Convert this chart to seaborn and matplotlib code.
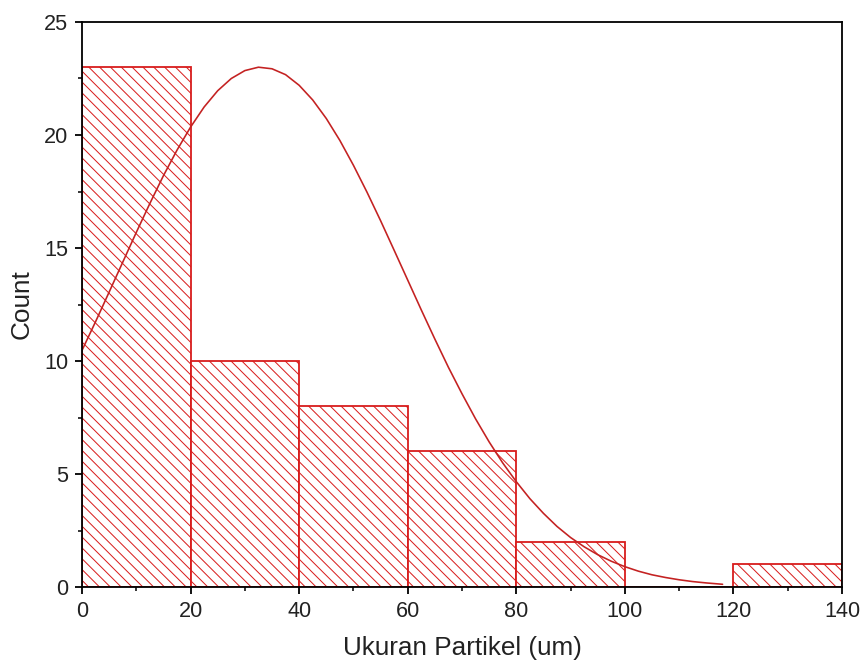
import numpy as np
import matplotlib
matplotlib.use("Agg")
import matplotlib.pyplot as plt
import seaborn as sns

# ── Data ────────────────────────────────────────────────────────────────────
bin_edges = [0, 20, 40, 60, 80, 100, 120, 140]
bin_counts = [23, 10, 8, 6, 2, 0, 1]

# fitted normal curve
curve_x = [0, 2.5, 5, 7.5, 10, 12.5, 15, 17.5, 20, 22.5, 25, 27.5, 30, 32.5,
           35, 37.5, 40, 42.5, 45, 47.5, 50, 52.5, 55, 57.5, 60, 62.5, 65,
           67.5, 70, 72.5, 75, 77.5, 80, 82.5, 85, 87.5, 90, 92.5, 95, 97.5,
           100, 102.5, 105, 107.5, 110, 112.5, 115, 118]
curve_y = [10.47, 11.74, 13.05, 14.37, 15.69, 16.97, 18.20, 19.33, 20.35,
           21.24, 21.96, 22.50, 22.85, 23.00, 22.93, 22.67, 22.20, 21.55,
           20.73, 19.76, 18.66, 17.47, 16.21, 14.90, 13.58, 12.26, 10.97,
           9.72, 8.55, 7.44, 6.42, 5.49, 4.66, 3.91, 3.26, 2.68, 2.19, 1.78,
           1.43, 1.14, 0.90, 0.70, 0.54, 0.42, 0.32, 0.24, 0.18, 0.12]

x_ticks = [0, 20, 40, 60, 80, 100, 120, 140]
y_ticks = [0, 5, 10, 15, 20, 25]

RED = "#d81c1c"
CURVE = "#c42222"

# ── Style ───────────────────────────────────────────────────────────────────
sns.set_style("ticks")
plt.rcParams["font.family"] = ["Liberation Sans", "DejaVu Sans"]
plt.rcParams["hatch.linewidth"] = 0.55

DPI = 130
fig = plt.figure(figsize=(861 / DPI, 666 / DPI), dpi=DPI)
ax = fig.add_axes([82 / 861, 1 - 587 / 666, 760 / 861, 565 / 666])

centers = [(a + b) / 2 for a, b in zip(bin_edges[:-1], bin_edges[1:])]
sns.histplot(x=centers, weights=bin_counts, bins=bin_edges, ax=ax,
             color="white", edgecolor=RED, linewidth=1.0,
             hatch="\\\\\\\\", alpha=1.0)
for p in ax.patches:
    p.set_facecolor("white")
    p.set_edgecolor(RED)

sns.lineplot(x=curve_x, y=curve_y, ax=ax, color=CURVE, linewidth=0.9)

ax.set_xlim(0, 140)
ax.set_ylim(0, 25)
ax.set_xticks(x_ticks)
ax.set_yticks(y_ticks)
ax.set_xticks([10, 30, 50, 70, 90, 110, 130], minor=True)
ax.set_yticks([2.5, 7.5, 12.5, 17.5, 22.5], minor=True)
ax.tick_params(which="major", direction="out", length=4, width=1.0,
               labelsize=12, colors="black", labelcolor="#222222")
ax.tick_params(which="minor", direction="out", length=2, width=1.0)
ax.tick_params(top=False, right=False)

for s in ax.spines.values():
    s.set_visible(True)
    s.set_color("black")
    s.set_linewidth(1.0)

ax.set_xlabel("Ukuran Partikel (um)", fontsize=14.5, labelpad=8, color="#222222")
ax.set_ylabel("Count", fontsize=14.5, labelpad=6, color="#222222")

fig.savefig("out.png", dpi=DPI)
